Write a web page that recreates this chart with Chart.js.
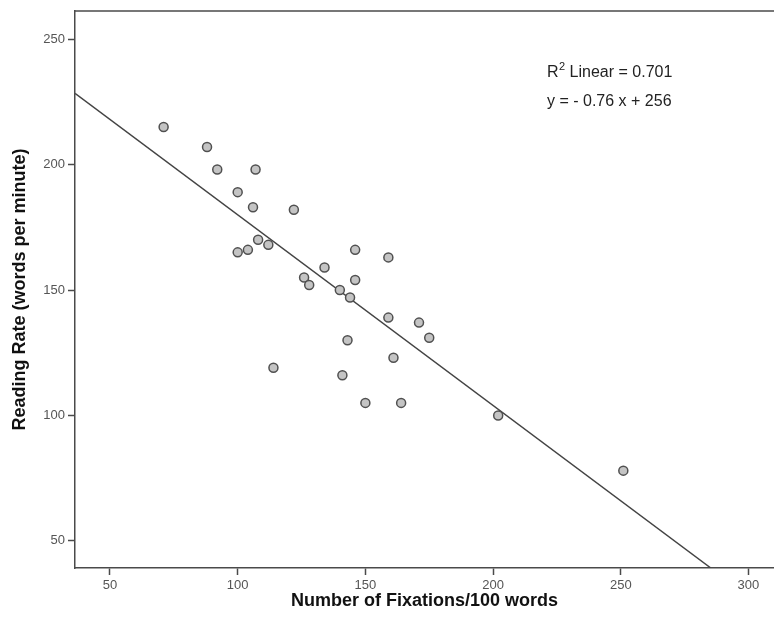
<!DOCTYPE html>
<html>
<head>
<meta charset="utf-8">
<script src="https://cdn.jsdelivr.net/npm/chart.js@4.4.0/dist/chart.umd.min.js"></script>
<style>
  html, body { margin: 0; padding: 0; background: #fff; }
  #wrap { width: 774px; height: 625px; }
</style>
</head>
<body>
<div id="wrap"><canvas id="scatterChart" width="774" height="625"></canvas></div>
<script>
/* ---- data ---- */
const fixations   = [71, 88, 92, 107, 100, 106, 122, 108, 112, 100, 104, 126, 128, 146, 159,
                     134, 146, 140, 144, 159, 171, 175, 143, 161, 114, 141, 150, 164, 202, 251];
const readingRate = [215, 207, 198, 198, 189, 183, 182, 170, 168, 165, 166, 155, 152, 166, 163,
                     159, 154, 150, 147, 139, 137, 131, 130, 123, 119, 116, 105, 105, 100, 78];
const xTicks = [50, 100, 150, 200, 250, 300];
const yTicks = [50, 100, 150, 200, 250];
const slope = -0.76;
const intercept = 256;
const rSquared = '0.701';

const X_MIN = 36.3, X_MAX = 310;
const Y_MIN = 39.2, Y_MAX = 261.2;

const AXIS_COLOR = '#4a4a4a';
const TICK_COLOR = '#555';

const points = fixations.map((x, i) => ({ x, y: readingRate[i] }));
// fit line, clipped to the visible range
const fitLine = [
  { x: X_MIN, y: slope * X_MIN + intercept },
  { x: (Y_MIN - intercept) / slope, y: Y_MIN }
];

const frameAndText = {
  id: 'frameAndText',
  afterDraw(chart) {
    const { ctx, chartArea } = chart;
    ctx.save();
    // top frame line
    ctx.strokeStyle = AXIS_COLOR;
    ctx.lineWidth = 1.5;
    ctx.beginPath();
    ctx.moveTo(chartArea.left, chartArea.top);
    ctx.lineTo(chartArea.right, chartArea.top);
    ctx.stroke();

    // fit annotation
    ctx.fillStyle = '#222';
    ctx.textBaseline = 'alphabetic';
    ctx.textAlign = 'left';
    let x = 547;
    ctx.font = '16px "Liberation Sans", Arial, sans-serif';
    ctx.fillText('R', x, 77);
    x += ctx.measureText('R').width + 0.5;
    ctx.font = '11px "Liberation Sans", Arial, sans-serif';
    ctx.fillText('2', x, 70);
    x += ctx.measureText('2').width;
    ctx.font = '16px "Liberation Sans", Arial, sans-serif';
    ctx.fillText(' Linear = ' + rSquared, x, 77);
    ctx.fillText('y = - ' + Math.abs(slope).toFixed(2) + ' x + ' + intercept, 547, 106);
    ctx.restore();
  }
};

new Chart(document.getElementById('scatterChart'), {
  type: 'scatter',
  data: {
    datasets: [
      {
        label: 'Observed',
        data: points,
        order: 0,
        pointRadius: 4.5,
        pointHoverRadius: 4.5,
        pointBackgroundColor: '#c4c4c4',
        pointBorderColor: '#505050',
        pointBorderWidth: 1.5
      },
      {
        label: 'Linear fit',
        data: fitLine,
        order: 1,
        showLine: true,
        pointRadius: 0,
        borderColor: '#444',
        borderWidth: 1.5,
        fill: false
      }
    ]
  },
  options: {
    responsive: false,
    animation: false,
    layout: { autoPadding: false, padding: { top: 11, right: 0, left: 0, bottom: 0 } },
    plugins: { legend: { display: false }, tooltip: { enabled: false } },
    scales: {
      x: {
        type: 'linear', min: X_MIN, max: X_MAX,
        afterBuildTicks: s => { s.ticks = xTicks.map(v => ({ value: v })); },
        afterFit: s => { s.height = 57; s.paddingRight = 0; s.paddingLeft = 0; },
        grid: { drawOnChartArea: false, drawTicks: true, tickLength: 7, tickColor: AXIS_COLOR, tickWidth: 1.5 },
        border: { display: true, color: AXIS_COLOR, width: 1.5 },
        ticks: { color: TICK_COLOR, padding: 3, font: { size: 13, family: '"Liberation Sans", Arial, sans-serif' } },
        title: {
          display: true, text: 'Number of Fixations/100 words', color: '#111',
          padding: { top: 0, bottom: 13 },
          font: { size: 18, weight: 'bold', family: '"Liberation Sans", Arial, sans-serif' }
        }
      },
      y: {
        type: 'linear', min: Y_MIN, max: Y_MAX,
        afterBuildTicks: s => { s.ticks = yTicks.map(v => ({ value: v })); },
        afterFit: s => { s.width = 75; s.paddingTop = 0; s.paddingBottom = 0; },
        grid: { drawOnChartArea: false, drawTicks: true, tickLength: 7, tickColor: AXIS_COLOR, tickWidth: 1.5 },
        border: { display: true, color: AXIS_COLOR, width: 1.5 },
        ticks: { color: TICK_COLOR, padding: 3, font: { size: 13, family: '"Liberation Sans", Arial, sans-serif' } },
        title: {
          display: true, text: 'Reading Rate (words per minute)', color: '#111',
          padding: { top: 9, bottom: 0 },
          font: { size: 18, weight: 'bold', family: '"Liberation Sans", Arial, sans-serif' }
        }
      }
    }
  },
  plugins: [frameAndText]
});
</script>
</body>
</html>
